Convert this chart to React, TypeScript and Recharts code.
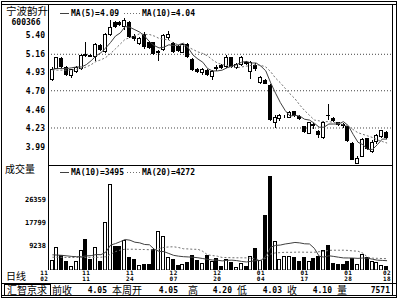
import React from "react";
import { ComposedChart, Bar, Line, XAxis, YAxis, CartesianGrid } from "recharts";

// trading days shown on the daily chart
const dates = [
  "11/02", "11/03", "11/04", "11/05", "11/08", "11/09", "11/10", "11/11", "11/12", "11/15",
  "11/16", "11/17", "11/18", "11/19", "11/22", "11/23", "11/24", "11/25", "11/26", "11/29",
  "11/30", "12/01", "12/02", "12/03", "12/06", "12/07", "12/08", "12/09", "12/10", "12/13",
  "12/14", "12/15", "12/16", "12/17", "12/20", "12/21", "12/22", "12/23", "12/24", "12/27",
  "12/28", "12/29", "12/30", "01/04", "01/05", "01/06", "01/07", "01/10", "01/11", "01/12",
  "01/13", "01/14", "01/17", "01/18", "01/19", "01/20", "01/21", "01/24", "01/25", "01/26",
  "01/27", "01/28", "01/31", "02/01", "02/02", "02/03", "02/04", "02/16", "02/17", "02/18",
];

const openPrices = [
  4.84, 4.98, 5.11, 5.00, 4.89, 4.94, 4.98, 5.16, 5.15, 5.12,
  5.28, 5.19, 5.40, 5.57, 5.57, 5.51, 5.57, 5.39, 5.29, 5.42,
  5.32, 5.31, 5.17, 5.21, 5.36, 5.30, 5.27, 5.18, 5.29, 5.10,
  4.98, 4.92, 4.96, 4.87, 5.00, 5.02, 5.00, 5.12, 4.99, 5.02,
  5.06, 4.94, 5.03, 4.80, 4.83, 4.77, 4.29, 4.34, 4.36, 4.36,
  4.44, 4.38, 4.25, 4.16, 4.28, 4.19, 4.10, 4.40, 4.36, 4.30,
  4.28, 4.25, 4.04, 3.78, 3.87, 4.10, 3.93, 4.05, 4.12, 4.18,
];
const highPrices = [
  5.00, 5.13, 5.12, 5.01, 4.98, 5.01, 5.16, 5.32, 5.16, 5.30,
  5.29, 5.43, 5.59, 5.58, 5.58, 5.62, 5.58, 5.41, 5.38, 5.44,
  5.33, 5.32, 5.22, 5.42, 5.45, 5.31, 5.28, 5.30, 5.30, 5.11,
  4.99, 4.99, 4.97, 4.96, 5.03, 5.04, 5.15, 5.13, 5.05, 5.14,
  5.07, 5.07, 5.05, 4.88, 4.85, 4.78, 4.39, 4.41, 4.39, 4.44,
  4.45, 4.40, 4.26, 4.31, 4.29, 4.20, 4.32, 4.53, 4.37, 4.31,
  4.29, 4.26, 4.05, 3.88, 4.10, 4.11, 4.08, 4.15, 4.20, 4.19,
];
const lowPrices = [
  4.82, 4.97, 4.99, 4.89, 4.86, 4.93, 4.96, 5.12, 5.12, 5.07,
  5.20, 5.18, 5.39, 5.49, 5.52, 5.47, 5.37, 5.33, 5.28, 5.23,
  5.23, 5.15, 5.07, 5.20, 5.34, 5.18, 5.19, 5.17, 5.11, 4.95,
  4.92, 4.90, 4.89, 4.84, 4.95, 4.97, 4.99, 4.99, 4.98, 5.01,
  5.03, 4.85, 4.95, 4.78, 4.78, 4.32, 4.23, 4.32, 4.35, 4.35,
  4.37, 4.33, 4.17, 4.15, 4.22, 4.10, 4.09, 4.33, 4.30, 4.26,
  4.23, 4.05, 3.82, 3.77, 3.86, 3.95, 3.92, 4.03, 4.11, 4.09,
];
const closePrices = [
  4.98, 5.12, 5.00, 4.90, 4.97, 5.00, 5.15, 5.14, 5.13, 5.29,
  5.21, 5.42, 5.51, 5.50, 5.53, 5.59, 5.38, 5.35, 5.37, 5.25,
  5.24, 5.16, 5.20, 5.40, 5.41, 5.19, 5.20, 5.29, 5.12, 4.96,
  4.94, 4.98, 4.90, 4.95, 4.98, 4.99, 5.13, 5.00, 5.04, 5.12,
  5.04, 5.06, 4.97, 4.87, 4.79, 4.33, 4.37, 4.39, 4.37, 4.43,
  4.38, 4.34, 4.18, 4.30, 4.25, 4.14, 4.31, 4.38, 4.32, 4.27,
  4.25, 4.06, 3.83, 3.85, 4.09, 3.96, 4.05, 4.14, 4.20, 4.10,
];
const ma5 = [
  4.97, 4.98, 4.98, 4.98, 4.99, 5.00, 5.00, 5.03, 5.08, 5.14,
  5.18, 5.24, 5.31, 5.39, 5.43, 5.51, 5.50, 5.47, 5.44, 5.39,
  5.32, 5.27, 5.24, 5.25, 5.28, 5.27, 5.28, 5.30, 5.24, 5.15,
  5.10, 5.06, 4.98, 4.95, 4.95, 4.96, 4.99, 5.01, 5.03, 5.06,
  5.07, 5.05, 5.05, 5.01, 4.95, 4.80, 4.67, 4.55, 4.45, 4.38,
  4.39, 4.38, 4.34, 4.33, 4.29, 4.24, 4.24, 4.28, 4.28, 4.28,
  4.31, 4.26, 4.15, 4.05, 4.02, 3.96, 3.96, 4.02, 4.09, 4.09,
];
const ma10 = [
  4.96, 4.96, 4.96, 4.96, 4.96, 4.97, 4.98, 5.00, 5.03, 5.07,
  5.09, 5.12, 5.17, 5.23, 5.29, 5.35, 5.37, 5.39, 5.42, 5.41,
  5.41, 5.39, 5.36, 5.35, 5.34, 5.30, 5.28, 5.27, 5.25, 5.22,
  5.19, 5.17, 5.14, 5.09, 5.05, 5.03, 5.02, 5.00, 4.99, 5.00,
  5.01, 5.02, 5.03, 5.02, 5.00, 4.94, 4.86, 4.80, 4.73, 4.66,
  4.60, 4.52, 4.45, 4.39, 4.33, 4.32, 4.31, 4.31, 4.30, 4.29,
  4.27, 4.25, 4.21, 4.17, 4.15, 4.13, 4.11, 4.08, 4.06, 4.04,
];
const volume = [
  3860, 8630, 5480, 3490, 1610, 3230, 7360, 11640, 4120, 8480,
  3490, 18020, 32280, 8860, 8860, 11370, 4740, 4120, 1740, 2370,
  2370, 7800, 14500, 12880, 5000, 4240, 1990, 2250, 2850, 5740,
  3610, 2630, 5740, 3490, 4500, 1350, 4240, 2850, 1120, 2630,
  1610, 5110, 8260, 3870, 20760, 35140, 10900, 4240, 5200, 5200,
  4740, 3490, 4870, 3230, 4500, 5370, 7500, 9400, 2630, 2300,
  2100, 3230, 4500, 2100, 5900, 4800, 3490, 3000, 1800, 1500,
];
const volMa10 = [
  5700, 5600, 5500, 5300, 5100, 5000, 5000, 5300, 5400, 5790,
  5753, 6692, 9372, 9909, 10634, 11448, 11186, 10434, 10196, 9585,
  9473, 7800, 7000, 6900, 6200, 5500, 5200, 5000, 4900, 4800,
  4600, 4300, 4000, 3754, 3704, 3415, 3640, 3700, 3527, 3216,
  3016, 3264, 3516, 3554, 5180, 8559, 9225, 9364, 9772, 10029,
  10342, 10180, 9841, 9777, 8151, 5174, 4834, 5350, 5093, 4803,
  4539, 4513, 4476, 4363, 4503, 4446, 4045, 3700, 3600, 3495,
];
const volMa20 = [
  4800, 4800, 4750, 4700, 4700, 4700, 4700, 4750, 4750, 4750,
  4800, 5000, 5900, 6900, 7500, 7800, 7800, 7800, 7700, 7688,
  7613, 7572, 8023, 8492, 8662, 8712, 8444, 7974, 7911, 7774,
  7780, 7010, 5683, 5415, 5197, 4696, 4671, 4607, 4576, 4589,
  4551, 4417, 4105, 3654, 4442, 5987, 6433, 6532, 6650, 6623,
  6679, 6722, 6679, 6666, 6666, 6867, 7030, 7357, 7433, 7416,
  7441, 7347, 7159, 7070, 6327, 4810, 4440, 4378, 4300, 4272,
];

const priceTicks = [5.40, 5.16, 4.93, 4.70, 4.46, 4.23, 3.99];
const priceGrid = [5.16, 4.70, 4.23];
const volumeTicks = [9238, 17799, 26359];
const dateTicks = ["11/02", "11/11", "11/24", "12/07", "12/20", "01/04", "01/17", "01/28", "02/18"];

const infoItems = [
  { label: "前收", value: "4.05" },
  { label: "本周开", value: "4.05" },
  { label: "高", value: "4.20" },
  { label: "低", value: "4.03" },
  { label: "收", value: "4.10" },
  { label: "量", value: "7571" },
];

const data = dates.map((d, i) => ({
  date: d,
  open: openPrices[i],
  high: highPrices[i],
  low: lowPrices[i],
  close: closePrices[i],
  ma5: ma5[i],
  ma10: ma10[i],
  vol: volume[i],
  vma10: volMa10[i],
  vma20: volMa20[i],
}));

const MONO = "'DejaVu Sans Mono', monospace";
const CJK = "'Noto Sans CJK SC', sans-serif";

// candle drawn inside the [low, high] range bar
const Candle = (props: any) => {
  const { x, y, width, height, payload } = props;
  if (x == null || !payload) return null;
  const top = Math.min(y, y + height);
  const h = Math.abs(height);
  const span = payload.high - payload.low;
  const py = (v: number) => (span > 0 ? top + ((payload.high - v) / span) * h : top);
  const c = Math.floor(x + width / 2);
  const up = payload.close >= payload.open;
  const bTop = Math.round(py(Math.max(payload.open, payload.close)));
  const bBot = Math.round(py(Math.min(payload.open, payload.close)));
  return (
    <g>
      <line x1={c + 0.5} x2={c + 0.5} y1={Math.round(top)} y2={Math.round(top + h)} stroke="#000" />
      {up ? (
        <rect x={c - 1.5} y={bTop + 0.5} width={3} height={Math.max(bBot - bTop - 1, 0)} fill="#fff" stroke="#000" />
      ) : (
        <rect x={c - 2} y={bTop} width={4} height={Math.max(bBot - bTop, 1)} fill="#000" />
      )}
    </g>
  );
};

const VolBar = (props: any) => {
  const { x, y, width, height, payload } = props;
  if (x == null || !payload) return null;
  const c = Math.floor(x + width / 2);
  const t = Math.round(y);
  const b = Math.round(y + height);
  if (payload.close >= payload.open) {
    return <rect x={c - 1.5} y={t + 0.5} width={3} height={Math.max(b - t - 0.5, 0)} fill="#fff" stroke="#000" />;
  }
  return <rect x={c - 2} y={t} width={4} height={Math.max(b - t, 1)} fill="#000" />;
};

// month over day, two short lines
const DateTick = (props: any) => {
  const { x, y, payload, index } = props;
  const [m, d] = String(payload.value).split("/");
  const first = index === 0;
  const tx = first ? x - 4 : x;
  const style = { fontFamily: MONO, fontWeight: 700, fontSize: 6, letterSpacing: 0.5, fill: "#000" } as const;
  return (
    <g>
      <text x={tx} y={y + 5} textAnchor={first ? "end" : "middle"} {...style}>{m}</text>
      <text x={tx} y={y + 11} textAnchor={first ? "end" : "middle"} {...style}>{d}</text>
    </g>
  );
};

const axisTick = (size: number) => ({ fontSize: size, fontFamily: MONO, fontWeight: 700, fill: "#000" });

export default function App() {
  return (
    <div style={{ position: "absolute", left: 0, top: 0, width: 400, height: 300, background: "#fff", overflow: "hidden" }}>
      {/* price panel */}
      <div style={{ position: "absolute", left: 0, top: 0 }}>
        <ComposedChart width={400} height={170} data={data} margin={{ top: 5, right: 7.5, bottom: 5, left: 0 }}>
          <CartesianGrid vertical={false} horizontalValues={priceGrid} stroke="#444" strokeDasharray="1 2" />
          <XAxis dataKey="date" hide padding={{ left: 2, right: 3 }} />
          <YAxis
            type="number"
            domain={[3.763, 5.782]}
            allowDataOverflow
            ticks={priceTicks}
            interval={0}
            width={48}
            tickSize={0}
            tickMargin={3}
            axisLine={false}
            tick={axisTick(8)}
            tickFormatter={(v: number) => v.toFixed(2)}
          />
          <Bar dataKey={(d: any) => [d.low, d.high]} barSize={4} shape={(p: any) => <Candle {...p} />} isAnimationActive={false} />
          <Line type="linear" dataKey="ma5" stroke="#404040" strokeWidth={1} dot={false} activeDot={false} isAnimationActive={false} />
          <Line type="linear" dataKey="ma10" stroke="#707070" strokeWidth={1} strokeDasharray="2 2" dot={false} activeDot={false} isAnimationActive={false} />
        </ComposedChart>
      </div>

      {/* volume panel */}
      <div style={{ position: "absolute", left: 0, top: 160 }}>
        <ComposedChart width={400} height={140} data={data} margin={{ top: 5, right: 7.5, bottom: 0, left: 0 }}>
          <XAxis
            dataKey="date"
            ticks={dateTicks}
            interval={0}
            padding={{ left: 2, right: 3 }}
            height={30}
            tickSize={0}
            tickMargin={0}
            axisLine={false}
            tick={(p: any) => <DateTick {...p} />}
          />
          <YAxis
            type="number"
            domain={[0, 39420]}
            allowDataOverflow
            ticks={volumeTicks}
            interval={0}
            width={48}
            tickSize={0}
            tickMargin={2}
            axisLine={false}
            tick={axisTick(7)}
          />
          <Bar dataKey="vol" barSize={4} shape={(p: any) => <VolBar {...p} />} isAnimationActive={false} />
          <Line type="linear" dataKey="vma10" stroke="#404040" strokeWidth={1} dot={false} activeDot={false} isAnimationActive={false} />
          <Line type="linear" dataKey="vma20" stroke="#707070" strokeWidth={1} strokeDasharray="2 2" dot={false} activeDot={false} isAnimationActive={false} />
        </ComposedChart>
      </div>

      {/* frame, titles, legends and the info bar */}
      <svg width={400} height={300} style={{ position: "absolute", left: 0, top: 0 }}>
        <rect x={1.5} y={1.5} width={395} height={296} fill="none" stroke="#000" />
        <line x1={1.5} x2={396.5} y1={4.5} y2={4.5} stroke="#000" />
        <line x1={392.5} x2={392.5} y1={4.5} y2={295.5} stroke="#000" />
        <line x1={48.5} x2={48.5} y1={4.5} y2={270} stroke="#000" />
        <line x1={48.5} x2={392.5} y1={165.5} y2={165.5} stroke="#000" />
        <line x1={1.5} x2={396.5} y1={283.5} y2={283.5} stroke="#000" />
        <line x1={1.5} x2={396.5} y1={295.5} y2={295.5} stroke="#000" />

        <text x={6} y={15} fontFamily={CJK} fontSize={10.5} fill="#000">宁波韵升</text>
        <text x={26} y={25} textAnchor="middle" fontFamily={MONO} fontWeight={700} fontSize={8} fill="#000">600366</text>

        <line x1={60} x2={69} y1={13.5} y2={13.5} stroke="#404040" />
        <text x={71} y={16} fontFamily={MONO} fontWeight={700} fontSize={8} fill="#000">MA(5)=4.09</text>
        <line x1={124} x2={140} y1={13.5} y2={13.5} stroke="#707070" strokeDasharray="1 2" />
        <text x={142} y={16} fontFamily={MONO} fontWeight={700} fontSize={8} fill="#000">MA(10)=4.04</text>

        <text x={5} y={173} fontFamily={CJK} fontSize={10} fill="#000">成交量</text>
        <line x1={60} x2={69} y1={172.5} y2={172.5} stroke="#404040" />
        <text x={71} y={175} fontFamily={MONO} fontWeight={700} fontSize={8} fill="#000">MA(10)=3495</text>
        <line x1={127} x2={140} y1={172.5} y2={172.5} stroke="#707070" strokeDasharray="1 2" />
        <text x={142} y={175} fontFamily={MONO} fontWeight={700} fontSize={8} fill="#000">MA(20)=4272</text>

        <text x={6} y={279.5} fontFamily={CJK} fontSize={10} fill="#000">日线</text>

        <rect x={4.5} y={284.5} width={46} height={11} fill="none" stroke="#000" />
        <text x={7} y={294} fontFamily={CJK} fontSize={10} fill="#000">汇智京求</text>
        {infoItems.map((it, k) => {
          const labelX = [52, 112, 188, 237, 287, 337][k];
          const valueEnd = [107, 178, 232, 282, 332, 390][k];
          return (
            <g key={it.label}>
              <text x={labelX} y={294} fontFamily={CJK} fontSize={10} fill="#000">{it.label}</text>
              <text x={valueEnd} y={293} textAnchor="end" fontFamily={MONO} fontWeight={700} fontSize={8} fill="#000">{it.value}</text>
            </g>
          );
        })}
      </svg>
    </div>
  );
}
